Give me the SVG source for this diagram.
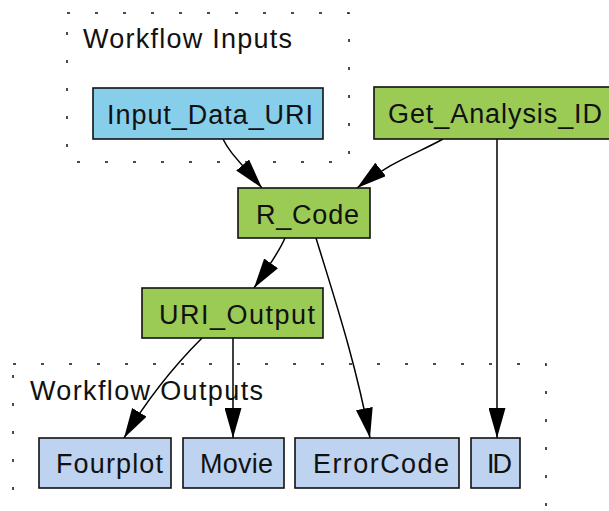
<svg xmlns="http://www.w3.org/2000/svg" width="609" height="511" viewBox="0 0 609 511">
<style>
  text { font-family: "Liberation Sans", Arial, sans-serif; font-size: 27px; fill: #111; }
  .node rect { stroke: #111; stroke-width: 1.6; }
  .in rect { fill: #87ceeb; }
  .proc rect { fill: #9bcb55; }
  .out rect { fill: #bdd3ef; }
  .cluster rect { fill: none; stroke: #111; stroke-width: 1.5; stroke-dasharray: 3 25; }
  .edge { fill: none; stroke: #000; stroke-width: 1.5; marker-end: url(#ah); }
</style>
<defs>
  <marker id="ah" viewBox="0 0 30 17" refX="30" refY="8.5" markerWidth="30" markerHeight="17" markerUnits="userSpaceOnUse" orient="auto">
    <path d="M0,0 L30,8.5 L0,17 Z" fill="#000"/>
  </marker>
</defs>

<g id="cluster_inputs" class="cluster">
  <rect x="67" y="13" width="282" height="149"/>
  <text x="83" y="48" textLength="209" lengthAdjust="spacing">Workflow Inputs</text>
</g>
<g id="cluster_outputs" class="cluster">
  <rect x="13" y="364" width="533" height="160"/>
  <text x="30" y="400" textLength="233" lengthAdjust="spacing">Workflow Outputs</text>
</g>

<g id="edges">
  <path class="edge" d="M223,139 C229,152 240,162 262,188"/>
  <path class="edge" d="M443,139 C420,152 390,162 357,188"/>
  <path class="edge" d="M285,238 C280,250 270,265 254,288"/>
  <path class="edge" d="M316,238 C335,300 355,360 370,438"/>
  <path class="edge" d="M497,139 L497,438"/>
  <path class="edge" d="M202,338 C178,362 148,398 124,438"/>
  <path class="edge" d="M233,338 L233,438"/>
</g>

<g id="Input_Data_URI" class="node in">
  <rect x="93" y="88" width="230" height="51"/>
  <text x="107" y="124" textLength="206" lengthAdjust="spacing">Input_Data_URI</text>
</g>
<g id="Get_Analysis_ID" class="node proc">
  <rect x="374" y="87" width="246" height="52"/>
  <text x="388" y="123" textLength="214" lengthAdjust="spacing">Get_Analysis_ID</text>
</g>
<g id="R_Code" class="node proc">
  <rect x="238" y="188" width="132" height="50"/>
  <text x="256" y="224" textLength="103" lengthAdjust="spacing">R_Code</text>
</g>
<g id="URI_Output" class="node proc">
  <rect x="142" y="288" width="181" height="50"/>
  <text x="159" y="324" textLength="156" lengthAdjust="spacing">URI_Output</text>
</g>
<g id="Fourplot" class="node out">
  <rect x="39" y="438" width="132" height="50"/>
  <text x="56" y="473" textLength="107" lengthAdjust="spacing">Fourplot</text>
</g>
<g id="Movie" class="node out">
  <rect x="183" y="438" width="101" height="50"/>
  <text x="200" y="473" textLength="73" lengthAdjust="spacing">Movie</text>
</g>
<g id="ErrorCode" class="node out">
  <rect x="295" y="438" width="164" height="50"/>
  <text x="313" y="473" textLength="136" lengthAdjust="spacing">ErrorCode</text>
</g>
<g id="ID" class="node out">
  <rect x="471" y="438" width="49" height="50"/>
  <text x="487" y="473" textLength="25" lengthAdjust="spacing">ID</text>
</g>
</svg>
